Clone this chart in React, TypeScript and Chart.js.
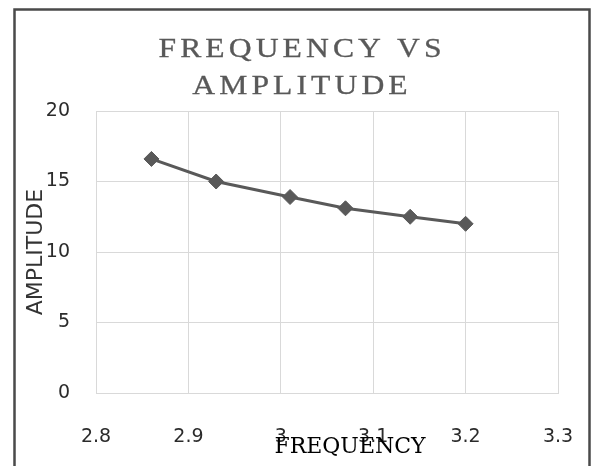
import React, { useEffect, useRef } from "react";
import { Chart, registerables } from "chart.js";

Chart.register(...registerables);

const frequency = [2.86, 2.93, 3.01, 3.07, 3.14, 3.2];
const amplitude = [16.6, 15, 13.9, 13.1, 12.5, 12];
const titleLines = ["FREQUENCY VS", "AMPLITUDE"];
const xTitle = "FREQUENCY";
const yTitle = "AMPLITUDE";

const decorPlugin = {
  id: "decor",
  beforeDraw(chart: any) {
    const ctx = chart.ctx;
    ctx.save();
    ctx.fillStyle = "#ffffff";
    ctx.fillRect(0, 0, chart.width, chart.height);
    ctx.strokeStyle = "#4a4a4a";
    ctx.lineWidth = 2.5;
    ctx.strokeRect(14.5, 9.5, 575, 480);
    ctx.restore();
  },
  afterDraw(chart: any) {
    const ctx = chart.ctx;
    // title
    const ls = 3.6;
    const sx = 1.13;
    const ys = [57, 94];
    titleLines.forEach((t, i) => {
      ctx.save();
      ctx.fillStyle = "#595959";
      ctx.strokeStyle = "#595959";
      ctx.lineWidth = 0.3;
      ctx.font = "28px 'Liberation Serif', serif";
      (ctx as any).letterSpacing = ls + "px";
      ctx.textAlign = "left";
      ctx.textBaseline = "alphabetic";
      const w = ctx.measureText(t).width - ls;
      ctx.translate(300, ys[i]);
      ctx.scale(sx, 1);
      ctx.fillText(t, -w / 2, 0);
      ctx.strokeText(t, -w / 2, 0);
      ctx.restore();
    });
    ctx.save();
    // x axis title
    ctx.fillStyle = "#000000";
    ctx.font = "22px 'DejaVu Serif', serif";
    ctx.textAlign = "center";
    ctx.textBaseline = "middle";
    ctx.fillText(xTitle, 350, 447);
    // y axis title
    ctx.fillStyle = "#333333";
    ctx.font = "22px 'DejaVu Sans', sans-serif";
    ctx.translate(36, 252);
    ctx.rotate(-Math.PI / 2);
    ctx.fillText(yTitle, 0, 0);
    ctx.restore();
  },
};

export default function App() {
  const ref = useRef<HTMLCanvasElement | null>(null);
  useEffect(() => {
    if (!ref.current) return;
    const chart = new Chart(ref.current, {
      type: "scatter",
      data: {
        datasets: [
          {
            data: frequency.map((x, i) => ({ x, y: amplitude[i] })),
            showLine: true,
            borderColor: "#595959",
            backgroundColor: "#595959",
            borderWidth: 3,
            pointStyle: "rectRot",
            pointRadius: 7.5,
            pointHoverRadius: 7.5,
            pointBorderWidth: 1,
            pointBorderColor: "#595959",
            pointBackgroundColor: "#595959",
          },
        ],
      },
      options: {
        animation: false,
        responsive: false,
        events: [],
        layout: { padding: { left: 0, right: 34, top: 111, bottom: 0 } },
        plugins: { legend: { display: false }, tooltip: { enabled: false }, title: { display: false } },
        scales: {
          x: {
            type: "linear",
            min: 2.8,
            max: 3.3,
            afterFit: (s: any) => {
              s.height = 73;
              s.paddingLeft = 0;
              s.paddingRight = 0;
            },
            ticks: {
              stepSize: 0.1,
              padding: 33,
              color: "#2b2b2b",
              font: { family: "'DejaVu Sans', sans-serif", size: 19 },
              callback: (v: any) => Number(Number(v).toFixed(1)).toString(),
              maxRotation: 0,
              autoSkip: false,
            },
            grid: { color: "#d9d9d9", lineWidth: 1, drawTicks: false },
            border: { color: "#d9d9d9" },
          },
          y: {
            min: 0,
            max: 20,
            afterFit: (s: any) => {
              s.width = 96;
              s.paddingTop = 0;
              s.paddingBottom = 0;
            },
            ticks: {
              stepSize: 5,
              padding: 26,
              color: "#2b2b2b",
              font: { family: "'DejaVu Sans', sans-serif", size: 19 },
            },
            grid: { color: "#d9d9d9", lineWidth: 1, drawTicks: false },
            border: { color: "#d9d9d9" },
          },
        },
      },
      plugins: [decorPlugin],
    });
    return () => chart.destroy();
  }, []);
  return (
    <div style={{ position: "fixed", left: 0, top: 0, width: 592, height: 466, background: "#fff" }}>
      <canvas ref={ref} width={592} height={466} style={{ display: "block" }} />
    </div>
  );
}
